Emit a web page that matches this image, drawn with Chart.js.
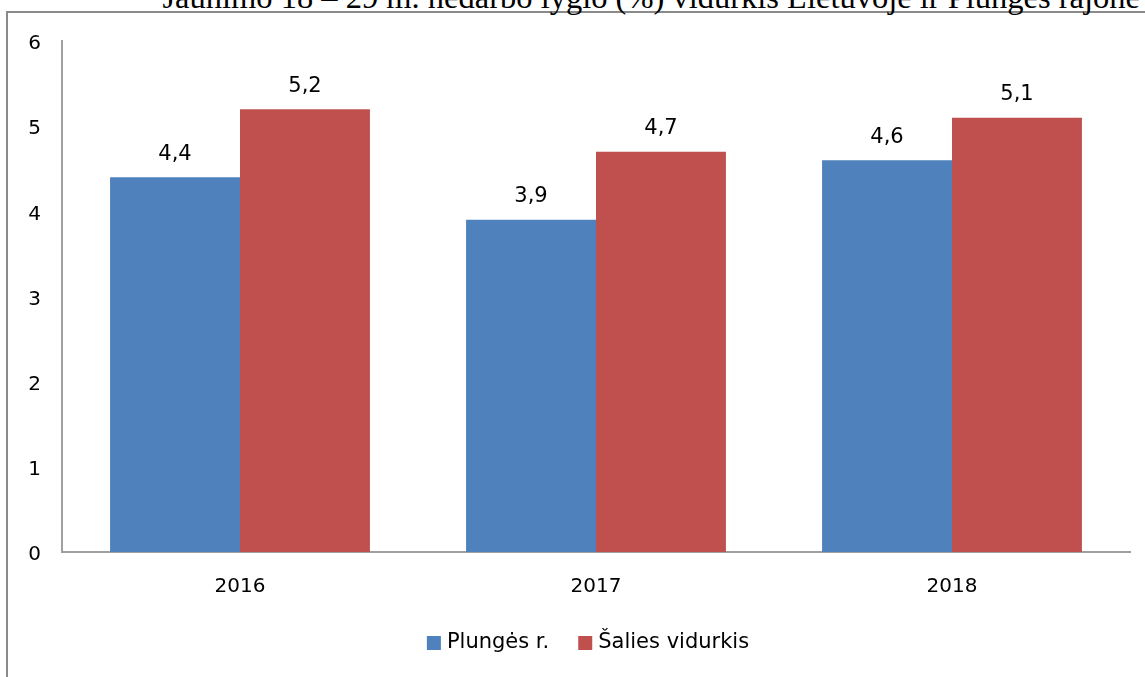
<!DOCTYPE html>
<html>
<head>
<meta charset="utf-8">
<script src="https://cdn.jsdelivr.net/npm/chart.js@4"></script>
<style>
  html, body { margin: 0; padding: 0; background: #fff; overflow: hidden; }
  body { width: 1145px; height: 677px; position: relative; }
  #frame { position: absolute; left: 6px; top: 11px; width: 1200px; height: 700px;
           border-left: 2px solid #8a8a8a; border-top: 2px solid #8a8a8a; }
  #caption { position: absolute; right: 5px; top: -19px; font: 32.5px "Liberation Serif", serif;
             line-height: 32.5px; white-space: nowrap; color: #000; }
  #chart { position: absolute; left: 0; top: 0; width: 1145px; height: 677px; }
</style>
</head>
<body>
<div id="frame"></div>
<div id="caption">Jaunimo 18 – 29 m. nedarbo lygio (%) vidurkis Lietuvoje ir Plungės rajone</div>
<canvas id="chart" width="1145" height="677"></canvas>
<script>
// categories and series
const years = ['2016', '2017', '2018'];
const plungesValues = [4.4, 3.9, 4.6];
const saliesValues = [5.2, 4.7, 5.1];
const seriesNames = ['Plungės r.', 'Šalies vidurkis'];

const fontFamily = '"DejaVu Sans", sans-serif';

// writes the value above every bar, with a decimal comma
const valueLabels = {
    id: 'valueLabels',
    afterDatasetsDraw(chart) {
        const ctx = chart.ctx;
        ctx.save();
        ctx.font = '21px ' + fontFamily;
        ctx.fillStyle = '#000';
        ctx.textAlign = 'center';
        ctx.textBaseline = 'middle';
        chart.data.datasets.forEach((ds, i) => {
            chart.getDatasetMeta(i).data.forEach((bar, j) => {
                ctx.fillText(ds.data[j].toFixed(1).replace('.', ','), bar.x, bar.y - 23);
            });
        });
        ctx.restore();
    }
};

// legend under the axis, built from the datasets (the built-in one pads too much vertically)
const bottomLegend = {
    id: 'bottomLegend',
    afterDraw(chart) {
        const ctx = chart.ctx;
        const box = 14, textGap = 6, itemGap = 29, y = 643, centerX = 588;
        ctx.save();
        ctx.font = '21px ' + fontFamily;
        ctx.textBaseline = 'middle';
        const items = chart.data.datasets.map(ds => ({
            label: ds.label,
            color: ds.backgroundColor,
            w: box + textGap + ctx.measureText(ds.label).width
        }));
        const total = items.reduce((s, it) => s + it.w, 0) + itemGap * (items.length - 1);
        let x = centerX - total / 2;
        items.forEach(it => {
            ctx.fillStyle = it.color;
            ctx.fillRect(x, y - box / 2, box, box);
            ctx.fillStyle = '#000';
            ctx.fillText(it.label, x + box + textGap, y);
            x += it.w + itemGap;
        });
        ctx.restore();
    }
};

const chartContext = document.querySelector('#chart').getContext('2d');

const chart = new Chart(chartContext, {
    type: 'bar',
    data: {
        labels: years,
        datasets: [{
            label: seriesNames[0],
            data: plungesValues,
            backgroundColor: '#4f81bd'
        }, {
            label: seriesNames[1],
            data: saliesValues,
            backgroundColor: '#c0504d'
        }]
    },
    options: {
        responsive: false,
        animation: false,
        devicePixelRatio: 1,
        layout: { padding: { top: 41, right: 15, left: 0, bottom: 65 } },
        categoryPercentage: 0.73,
        barPercentage: 1.0,
        plugins: {
            legend: { display: false },
            tooltip: { enabled: false }
        },
        scales: {
            x: {
                grid: { display: false, drawTicks: false },
                border: { color: '#a0a0a0', width: 2 },
                ticks: { color: '#000', padding: 23, font: { size: 20, family: fontFamily } },
                afterFit(scale) { scale.height = 60; }
            },
            y: {
                min: 0,
                max: 6,
                grid: { display: false, drawTicks: false },
                border: { color: '#a0a0a0', width: 2 },
                ticks: { stepSize: 1, labelOffset: 3, color: '#000', padding: 21, font: { size: 20, family: fontFamily } },
                afterFit(scale) { scale.width = 62; }
            }
        }
    },
    plugins: [valueLabels, bottomLegend]
});
</script>
</body>
</html>
